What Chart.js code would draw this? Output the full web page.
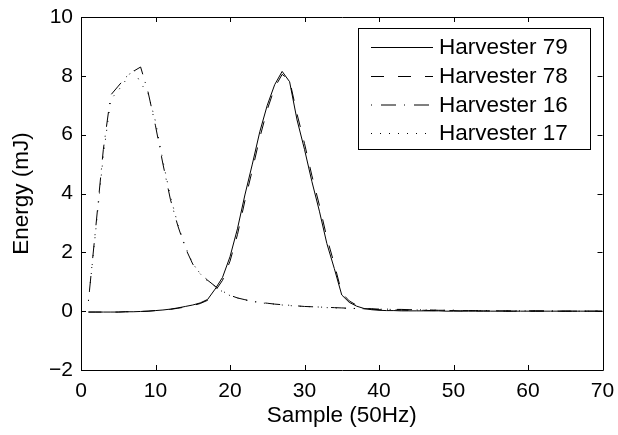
<!DOCTYPE html>
<html>
<head>
<meta charset="utf-8">
<script src="https://cdn.jsdelivr.net/npm/chart.js@4"></script>
<style>
  html, body { margin: 0; padding: 0; background: #fff; }
  canvas { display: block; }
</style>
</head>
<body>
<canvas id="energyChart" width="618" height="435"></canvas>
<script>
// sample index (50Hz)
const sample = [
  1, 2, 3, 4, 5, 6, 7, 8, 9, 10,
  11, 12, 13, 14, 15, 16, 17, 18, 19, 20,
  21, 22, 23, 24, 25, 26, 27, 28, 29, 30,
  31, 32, 33, 34, 35, 36, 37, 38, 39, 40,
  41, 42, 43, 44, 45, 46, 47, 48, 49, 50,
  51, 52, 53, 54, 55, 56, 57, 58, 59, 60,
  61, 62, 63, 64, 65, 66, 67, 68, 69, 70
];

// energy in mJ
const harvester79 = [
  -0.03, -0.03, -0.03, -0.03, -0.03, -0.02, -0.02, -0.01, 0.00, 0.02,
  0.04, 0.07, 0.11, 0.16, 0.21, 0.28, 0.40, 0.75, 1.15, 1.85,
  2.80, 3.95, 5.00, 6.10, 7.00, 7.70, 8.15, 7.80, 6.50, 5.50,
  4.40, 3.40, 2.30, 1.45, 0.55, 0.30, 0.17, 0.09, 0.05, 0.03,
  0.02, 0.02, 0.01, 0.01, 0.01, 0.01, 0.01, 0.01, 0.00, 0.00,
  0.00, 0.00, 0.00, 0.00, 0.00, 0.00, 0.00, 0.00, 0.00, 0.00,
  0.00, 0.00, 0.00, 0.00, 0.00, 0.00, 0.00, 0.00, 0.00, 0.00
];
const harvester78 = [
  -0.03, -0.03, -0.03, -0.03, -0.03, -0.02, -0.02, -0.01, 0.00, 0.02,
  0.03, 0.06, 0.10, 0.14, 0.19, 0.26, 0.37, 0.68, 1.05, 1.70,
  2.60, 3.75, 4.80, 5.90, 6.85, 7.60, 8.05, 7.85, 6.70, 5.70,
  4.60, 3.60, 2.50, 1.60, 0.62, 0.35, 0.20, 0.11, 0.07, 0.05,
  0.04, 0.04, 0.04, 0.03, 0.03, 0.03, 0.02, 0.02, 0.02, 0.02,
  0.01, 0.01, 0.01, 0.01, 0.01, 0.01, 0.00, 0.00, 0.00, 0.00,
  0.00, 0.00, 0.00, 0.00, 0.00, 0.00, 0.00, 0.00, 0.00, 0.00
];
const harvester16 = [
  0.35, 2.90, 5.50, 7.35, 7.65, 7.95, 8.15, 8.30, 7.45, 6.30,
  5.00, 3.80, 2.90, 2.15, 1.60, 1.28, 1.05, 0.85, 0.68, 0.54,
  0.45, 0.39, 0.34, 0.30, 0.27, 0.24, 0.22, 0.20, 0.18, 0.16,
  0.15, 0.14, 0.13, 0.12, 0.11, 0.10, 0.09, 0.08, 0.08, 0.07,
  0.07, 0.06, 0.06, 0.05, 0.05, 0.04, 0.04, 0.03, 0.03, 0.03,
  0.02, 0.02, 0.02, 0.02, 0.02, 0.01, 0.01, 0.01, 0.01, 0.01,
  0.01, 0.01, 0.01, 0.00, 0.00, 0.00, 0.00, 0.00, 0.00, 0.00
];
const harvester17 = [
  0.35, 2.80, 5.30, 7.20, 7.50, 7.85, 8.25, 7.75, 7.40, 6.45,
  5.10, 3.90, 2.95, 2.20, 1.62, 1.27, 1.02, 0.84, 0.66, 0.53,
  0.45, 0.38, 0.33, 0.29, 0.26, 0.24, 0.21, 0.19, 0.17, 0.16,
  0.15, 0.14, 0.12, 0.11, 0.10, 0.09, 0.09, 0.08, 0.07, 0.07,
  0.06, 0.06, 0.05, 0.05, 0.04, 0.04, 0.04, 0.03, 0.03, 0.03,
  0.02, 0.02, 0.02, 0.02, 0.01, 0.01, 0.01, 0.01, 0.01, 0.01,
  0.01, 0.00, 0.00, 0.00, 0.00, 0.00, 0.00, 0.00, 0.00, 0.00
];

const seriesLabels = ['Harvester 79', 'Harvester 78', 'Harvester 16', 'Harvester 17'];
const xTicks = [0, 10, 20, 30, 40, 50, 60, 70];
const yTicks = [-2, 0, 2, 4, 6, 8, 10];

const FONT = '"Liberation Sans", Arial, Helvetica, sans-serif';

function toPoints(ys) {
  return sample.map((x, i) => ({ x: x, y: ys[i] }));
}

// MATLAB-like frame: box on all four sides, ticks pointing inwards
const framePlugin = {
  id: 'frame',
  afterDraw(chart) {
    const { ctx, chartArea: a, scales } = chart;
    const tl = 5;
    ctx.save();
    ctx.strokeStyle = '#000';
    ctx.lineWidth = 1;
    ctx.beginPath();
    ctx.rect(Math.round(a.left) + 0.5, Math.round(a.top) + 0.5,
             Math.round(a.right - a.left), Math.round(a.bottom - a.top));
    xTicks.forEach(v => {
      const px = Math.round(scales.x.getPixelForValue(v)) + 0.5;
      ctx.moveTo(px, a.bottom); ctx.lineTo(px, a.bottom - tl);
      ctx.moveTo(px, a.top); ctx.lineTo(px, a.top + tl);
    });
    yTicks.forEach(v => {
      const py = Math.round(scales.y.getPixelForValue(v)) + 0.5;
      ctx.moveTo(a.left, py); ctx.lineTo(a.left + tl, py);
      ctx.moveTo(a.right, py); ctx.lineTo(a.right - tl, py);
    });
    ctx.stroke();

    // legend box
    const box = { left: 358.5, top: 28.5, width: 232, height: 121 };
    ctx.fillStyle = '#fff';
    ctx.fillRect(box.left, box.top, box.width, box.height);
    ctx.strokeRect(box.left, box.top, box.width, box.height);
    const rows = [47, 76, 104.5, 133];
    ctx.font = '22.5px ' + FONT;
    ctx.textBaseline = 'middle';
    ctx.textAlign = 'left';
    chart.data.datasets.forEach((ds, i) => {
      ctx.beginPath();
      ctx.setLineDash(ds.borderDash || []);
      ctx.moveTo(371, rows[i] + 0.5);
      ctx.lineTo(433, rows[i] + 0.5);
      ctx.stroke();
      ctx.setLineDash([]);
      ctx.fillStyle = '#000';
      ctx.fillText(ds.label, 439, rows[i] + 1);
    });
    ctx.restore();
  }
};

new Chart(document.getElementById('energyChart'), {
  type: 'line',
  data: {
    datasets: [
      { label: seriesLabels[0], data: toPoints(harvester79), borderDash: [] },
      { label: seriesLabels[1], data: toPoints(harvester78), borderDash: [13, 14] },
      { label: seriesLabels[2], data: toPoints(harvester16), borderDash: [1, 9, 15, 8] },
      { label: seriesLabels[3], data: toPoints(harvester17), borderDash: [1, 8] }
    ].map(ds => Object.assign(ds, {
      borderColor: '#000',
      borderWidth: 1,
      pointRadius: 0,
      tension: 0,
      fill: false
    }))
  },
  options: {
    responsive: false,
    devicePixelRatio: 1,
    animation: false,
    layout: { padding: { top: 17, right: 15.5, bottom: 0, left: 0 } },
    plugins: {
      legend: { display: false },
      tooltip: { enabled: false }
    },
    scales: {
      x: {
        type: 'linear',
        min: 0,
        max: 70,
        afterBuildTicks: s => { s.ticks = xTicks.map(v => ({ value: v })); },
        afterFit: s => { s.height = 65; s.paddingLeft = 0; s.paddingRight = 0; },
        grid: { display: false, drawTicks: false },
        border: { display: false },
        ticks: {
          color: '#000',
          padding: 9,
          maxRotation: 0,
          font: { family: FONT, size: 21 }
        },
        title: {
          display: true,
          text: 'Sample (50Hz)',
          color: '#000',
          font: { family: FONT, size: 22.5 },
          padding: { top: 0, bottom: 6 }
        }
      },
      y: {
        type: 'linear',
        min: -2,
        max: 10,
        afterBuildTicks: s => { s.ticks = yTicks.map(v => ({ value: v })); },
        afterFit: s => { s.width = 81; s.paddingTop = 0; s.paddingBottom = 0; },
        grid: { display: false, drawTicks: false },
        border: { display: false },
        ticks: {
          color: '#000',
          padding: 8,
          font: { family: FONT, size: 21 },
          callback: v => String(v).replace('-', '\u2212')
        },
        title: {
          display: true,
          text: 'Energy (mJ)',
          color: '#000',
          font: { family: FONT, size: 22.5 },
          padding: { top: 8, bottom: 0 }
        }
      }
    }
  },
  plugins: [framePlugin]
});
</script>
</body>
</html>
